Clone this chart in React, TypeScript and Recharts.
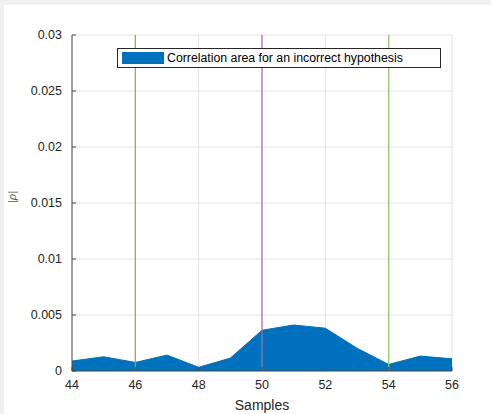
import { Area, AreaChart, CartesianGrid, ReferenceLine, XAxis, YAxis } from "recharts";

const samples = [44, 45, 46, 47, 48, 49, 50, 51, 52, 53, 54, 55, 56];
const rho = [0.00089, 0.00127, 0.00077, 0.00142, 0.00033, 0.00115, 0.00364, 0.00411, 0.00382, 0.00204, 0.00059, 0.00133, 0.00109];
const xTicks = [44, 46, 48, 50, 52, 54, 56];
const yTicks = [0, 0.005, 0.01, 0.015, 0.02, 0.025, 0.03];
const markers = [
  { x: 46, color: "#80b244" },
  { x: 50, color: "#a46fb6" },
  { x: 54, color: "#93c263" },
];

const data = samples.map((s, i) => ({ s, rho: rho[i] }));

const font = "'Liberation Sans', Arial, Helvetica, sans-serif";
const tickColor = "#262626";
const xGap = 9;
const yGap = 10;

// MATLAB style: labels outside, small tick marks pointing into the plot
const XTick = (props: any) => {
  const { x, y, payload } = props;
  const axisY = y - xGap;
  return (
    <g>
      <line x1={x} x2={x} y1={axisY} y2={axisY - 4} stroke="#4d4d4d" />
      <text x={x} y={y} dy="0.71em" textAnchor="middle" fill={tickColor} fontSize={12.5} fontFamily={font}>
        {payload.value}
      </text>
    </g>
  );
};

const YTick = (props: any) => {
  const { x, y, payload } = props;
  const axisX = x + yGap;
  return (
    <g>
      <line x1={axisX} x2={axisX + 4} y1={y} y2={y} stroke="#4d4d4d" />
      <text x={x} y={y} dy="0.355em" textAnchor="end" fill={tickColor} fontSize={12.5} fontFamily={font}>
        {payload.value}
      </text>
    </g>
  );
};

const LegendBox = () => (
  <div
    style={{
      position: "absolute",
      left: 117,
      top: 48,
      width: 324,
      height: 20,
      border: "1px solid #262626",
      background: "#fff",
      display: "flex",
      alignItems: "center",
      fontFamily: font,
      fontSize: 12.3,
      color: "#000",
      boxSizing: "border-box",
    }}
  >
    <div style={{ width: 42, height: 12, background: "#0072BD", marginLeft: 4, marginRight: 3 }} />
    <span>Correlation area for an incorrect hypothesis</span>
  </div>
);

export default function App() {
  return (
    <div style={{ position: "absolute", left: 0, top: 0, width: 491, height: 414, background: "#f0f0f0", overflow: "hidden" }}>
      <div style={{ position: "absolute", left: 4, top: 5, width: 487, height: 409, background: "#fff" }} />
      <div style={{ position: "absolute", left: 0, top: 0 }}>
        <AreaChart width={491} height={414} data={data} margin={{ top: 35, right: 39, bottom: 0, left: 12 }}>
          <CartesianGrid stroke="#e3e3e3" strokeWidth={1} />
          <XAxis
            dataKey="s"
            type="number"
            domain={[44, 56]}
            ticks={xTicks}
            height={43}
            tickLine={false}
            tickSize={0}
            tickMargin={xGap}
            stroke="#4d4d4d"
            tick={<XTick />}
            label={{ value: "Samples", position: "insideBottom", offset: 4, fill: tickColor, fontSize: 14, fontFamily: font }}
          />
          <YAxis
            type="number"
            domain={[0, 0.03]}
            ticks={yTicks}
            width={60}
            tickLine={false}
            tickSize={0}
            tickMargin={yGap}
            stroke="#4d4d4d"
            tick={<YTick />}
            allowDataOverflow
            label={{ value: "|ρ|", angle: -90, position: "insideLeft", offset: 0, fill: "#555", fontSize: 11, fontFamily: font, fontStyle: "italic" }}
          />
          <Area
            type="linear"
            dataKey="rho"
            stroke="#0072BD"
            strokeWidth={1}
            fill="#0072BD"
            fillOpacity={1}
            baseValue={0}
            isAnimationActive={false}
          />
          {markers.map((m) => (
            <ReferenceLine key={m.x} x={m.x} stroke={m.color} strokeWidth={1.2} />
          ))}
        </AreaChart>
      </div>
      <LegendBox />
    </div>
  );
}
